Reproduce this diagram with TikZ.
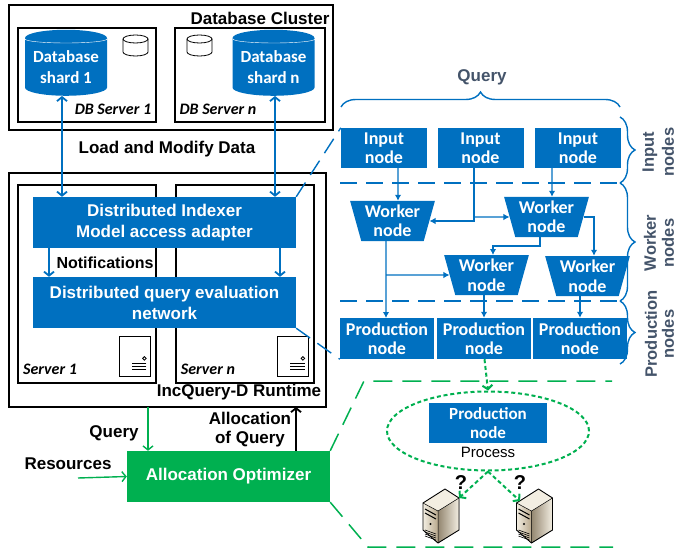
\documentclass[tikz,border=0pt]{standalone}
\usepackage{fontspec}
\setmainfont{Carlito}
\newfontfamily\arialfont{Liberation Sans}
\usetikzlibrary{arrows.meta,shapes.geometric,decorations.pathreplacing}
\definecolor{shardblue}{HTML}{0070C0}
\definecolor{optgreen}{HTML}{00B050}
\definecolor{slatetext}{HTML}{44546A}
\definecolor{servertan}{HTML}{B8A88C}
\definecolor{servercream}{HTML}{F3EEE2}
\tikzset{
    frame/.style={draw=black,line width=1.6pt},
    blueblock/.style={fill=shardblue,text=white,font=\fontsize{18}{19.5}\selectfont\bfseries,align=center,inner sep=0pt},
    arialblock/.style={blueblock,font=\arialfont\fontsize{17}{21}\selectfont\bfseries},
    workernode/.style={blueblock,trapezium,trapezium stretches=true,trapezium angle=73,shape border rotate=180,minimum width=85pt,minimum height=40pt},
    inputnode/.style={blueblock,minimum width=86pt,minimum height=40pt},
    prodnode/.style={blueblock,minimum width=94pt,minimum height=41pt},
    shard/.style={blueblock,font=\fontsize{17}{21}\selectfont\bfseries,cylinder,shape border rotate=90,aspect=0.25,minimum width=82pt,minimum height=66pt},
    caption/.style={font=\arialfont\fontsize{17}{19}\selectfont\bfseries,align=center,inner sep=0pt},
    servername/.style={font=\fontsize{16}{18}\selectfont\bfseries\itshape,inner sep=0pt},
    sidelabel/.style={font=\arialfont\fontsize{16.5}{20}\selectfont\bfseries,text=slatetext,rotate=90,inner sep=0pt},
    smallserver/.style={draw=black,thick,fill=white,minimum width=31pt,minimum height=40pt,inner sep=0pt},
    barb/.style={{Straight Barb[length=4pt,width=10pt]}-{Straight Barb[length=4pt,width=10pt]},draw=shardblue,line width=1.8pt},
    barbend/.style={-{Straight Barb[length=4pt,width=10pt]},line width=1.8pt},
    flow/.style={-{Latex[length=6pt,width=6.5pt]},draw=shardblue,line width=1.3pt},
    zoomline/.style={draw=shardblue,line width=1.4pt,dash pattern=on 17pt off 9pt},
    zoomgreen/.style={draw=optgreen,line width=1.5pt,dash pattern=on 19pt off 10pt},
    dotgreen/.style={draw=optgreen,line width=2pt,dash pattern=on 4pt off 2.8pt},
    brace/.style={draw=shardblue,line width=1.4pt,decorate,decoration={brace,amplitude=15pt}}
}
\begin{document}
\begin{tikzpicture}[x=1pt,y=-1pt]
    \useasboundingbox (0,0) rectangle (677,548);

    % database side
    \draw[frame] (9,5) rectangle (333,130);
    \draw[frame] (18,28) rectangle (156,122);
    \draw[frame] (175,28) rectangle (325,122);
    \node[caption] (clusterlabel) at (260,18) {Database Cluster};
    \node[shard] (shardone) at (66,67) {Database\\shard 1};
    \node[shard] (shardn) at (273.5,67) {Database\\shard n};
    \draw[white,thin] (25,39) arc[start angle=180,end angle=0,x radius=41,y radius=4];
    \draw[white,thin] (233,39) arc[start angle=180,end angle=0,x radius=41,y radius=4];
    \foreach \cx in {123,187} {
        \draw[thick,fill=white] (\cx,39) -- (\cx,52) arc[start angle=180,end angle=0,x radius=12.5,y radius=4] -- (\cx+25,39);
        \draw[thick,fill=white] (\cx+12.5,39) ellipse[x radius=12.5,y radius=4];
    }
    \node[servername] (dbserverone) at (113,109) {DB Server 1};
    \node[servername] (dbservern) at (218,109) {DB Server n};
    \node[caption] (loadlabel) at (167,149) {Load and Modify Data};

    % runtime
    \draw[frame] (9,173) rectangle (326,407);
    \draw[frame] (18,185) rectangle (156,383);
    \draw[frame] (176,185) rectangle (314,383);
    \node[arialblock,minimum width=263pt,minimum height=51pt] (indexer) at (164.5,222.5) {Distributed Indexer\\Model access adapter};
    \node[arialblock,minimum width=263pt,minimum height=51pt] (evalnet) at (164.5,302.5) {Distributed query evaluation\\network};
    \node[caption,font=\arialfont\fontsize{16}{19}\selectfont\bfseries] (notiflabel) at (105,263) {Notifications};
    \node[smallserver] (boxone) at (134.5,356) {};
    \node[smallserver] (boxn) at (293,356) {};
    \foreach \bx in {boxone,boxn} {
        \draw[thick] ([xshift=-6pt,yshift=18pt]\bx.south east) circle (1.8pt);
        \foreach \by in {7,10,13} {
            \draw ([xshift=-4pt,yshift=\by pt]\bx.south east) -- ++(-14.5,0);
        }
    }
    \node[servername] (serverone) at (50,369) {Server 1};
    \node[servername] (servern) at (208,369) {Server n};
    \node[caption] (runtimelabel) at (239,392) {IncQuery-D Runtime};
    \draw[barb] ([xshift=-4pt]shardone.south) -- ([xshift=-102.5pt]indexer.north);
    \draw[barb] ([xshift=1.5pt]shardn.south) -- ([xshift=110.5pt]indexer.north);
    \draw[barbend,draw=shardblue] ([xshift=-115.5pt]indexer.south) -- ([xshift=-115.5pt]evalnet.north);
    \draw[barbend,draw=shardblue] ([xshift=115.5pt]indexer.south) -- ([xshift=115.5pt]evalnet.north);

    % optimizer
    \node[arialblock,fill=optgreen,minimum width=203pt,minimum height=51pt] (optimizer) at (228.5,476.5) {Allocation Optimizer};
    \node[caption] (querylabel) at (114,433) {Query};
    \node[caption] (resourceslabel) at (68,464) {Resources};
    \node[caption] (alloclabel) at (250,429.5) {Allocation\\of Query};
    \coordinate (resourcesin) at (78,478);
    \draw[barbend,draw=optgreen,line width=1.4pt] ([xshift=-80.5pt]optimizer.north |- 0,407) -- ([xshift=-80.5pt]optimizer.north);
    \draw[barbend,draw=optgreen,line width=1.4pt] (resourcesin) -- (optimizer.west);
    \draw[barbend,draw=black] ([xshift=67.5pt]optimizer.north) -- ([xshift=67.5pt]optimizer.north |- 0,407);

    % query network
    \node[caption,text=slatetext] (querytitle) at (482,77) {Query};
    \node[inputnode] (inputa) at (384,148) {Input\\node};
    \node[inputnode] (inputb) at (480.5,148) {Input\\node};
    \node[inputnode] (inputc) at (578,148) {Input\\node};
    \node[workernode] (workera) at (392.5,221) {Worker\\node};
    \node[workernode] (workerb) at (546.5,217) {Worker\\node};
    \node[workernode] (workerc) at (486.5,275) {Worker\\node};
    \node[workernode] (workerd) at (587.5,276) {Worker\\node};
    \node[prodnode] (proda) at (387,338.5) {Production\\node};
    \node[prodnode] (prodb) at (484,338.5) {Production\\node};
    \node[prodnode] (prodc) at (580,338.5) {Production\\node};

    \draw[flow] ([xshift=14pt]inputa.south) -- ([xshift=5.5pt]workera.north);
    \draw[flow] ([xshift=-6.5pt]inputb.south) |- (workera.east);
    \draw[flow] (474,217) -- (workerb.west);
    \draw[flow] ([xshift=-26pt]inputc.south) -- ([xshift=5.5pt]workerb.north);
    \draw[flow] (workerb.east) -| ([xshift=6.5pt]workerd.north);
    \draw[flow] ([xshift=-6.5pt]workerb.south) |- (493,246) -- (493,255);
    \draw[flow] ([xshift=-6.5pt]workera.south) -- (386,318);
    \draw[flow] (386,275) -- (workerc.west);
    \draw[flow] (workerc.south -| prodb.north) -- (prodb.north);
    \draw[flow] (workerd.south -| prodc.north) -- (prodc.north);

    \draw[zoomline] (340,183) -- (622,183);
    \draw[zoomline] (340,301) -- (622,301);
    \draw[zoomline] (indexer.north east) -- (inputa.north west);
    \draw[zoomline] (evalnet.south east) -- (proda.south west);

    \draw[brace] (341,107) -- (620,107);
    \draw[brace] (620,117) -- (620,183);
    \draw[brace] (620,183) -- (620,301);
    \draw[brace] (620,301) -- (620,364);
    \node[sidelabel] (labinput) at (650,152) {Input};
    \node[sidelabel] (labinputb) at (668,152) {nodes};
    \node[sidelabel] (labworker) at (650,243) {Worker};
    \node[sidelabel] (labworkerb) at (668,243) {nodes};
    \node[sidelabel] (labprod) at (651,334) {Production};
    \node[sidelabel] (labprodb) at (668,334) {nodes};

    % allocation of a process
    \node[draw=optgreen,line width=2pt,dash pattern=on 4pt off 2.8pt,ellipse,minimum width=202pt,minimum height=79pt,inner sep=0pt] (process) at (488,431) {};
    \node[prodnode,font=\fontsize{17}{19}\selectfont\bfseries,minimum width=118pt,minimum height=40pt] (prodinner) at (488,423) {Production\\node};
    \node[font=\arialfont\fontsize{15}{16}\selectfont,inner sep=0pt] (processlabel) at (488,452) {Process};
    \draw[dotgreen,-{Straight Barb[length=4pt,width=10pt]}] ([xshift=0.5pt]prodb.south) -- (process.north);
    \draw[zoomgreen] (optimizer.north east) -- (364,381) -- (612,381);
    \draw[zoomgreen] (optimizer.south east) -- (368,547) -- (613,547);

    \foreach \sx in {0,93.5} {
        \begin{scope}[xshift=\sx pt]
            \fill[left color=servercream,right color=servertan] (423,503) -- (438,511) -- (438,543) -- (423,530) -- cycle;
            \fill[left color=servertan!80!black,right color=servercream] (438,511) -- (459,498) -- (459,530) -- (438,543) -- cycle;
            \fill[servercream] (423,503) -- (445,489) -- (459,498) -- (438,511) -- cycle;
            \draw[line width=0.9pt,line join=round] (423,503) -- (445,489) -- (459,498) -- (459,530) -- (438,543) -- (423,530) -- cycle;
            \draw[line width=0.5pt] (423,503) -- (438,511) -- (438,543) (438,511) -- (459,498);
            \draw[line width=1pt] (425,509) -- (436,515) (425,513) -- (436,519);
            \fill[black] (430.5,524) circle (1.2pt);
            \foreach \ly in {530,532,534,536} {
                \draw[line width=0.6pt] (425,\ly) -- (436,\ly+4);
            }
        \end{scope}
    }
    \coordinate (srvonein) at (459,498);
    \coordinate (srvtwoin) at (520,501);
    \node[caption,font=\arialfont\fontsize{20}{20}\selectfont\bfseries] (askone) at (461,483) {?};
    \node[caption,font=\arialfont\fontsize{20}{20}\selectfont\bfseries] (asktwo) at (520,483) {?};
    \draw[dotgreen,-{Straight Barb[length=4pt,width=10pt]}] (process.south) -- (srvonein);
    \draw[dotgreen,-{Straight Barb[length=4pt,width=10pt]}] (process.south) -- (srvtwoin);
\end{tikzpicture}
\end{document}
